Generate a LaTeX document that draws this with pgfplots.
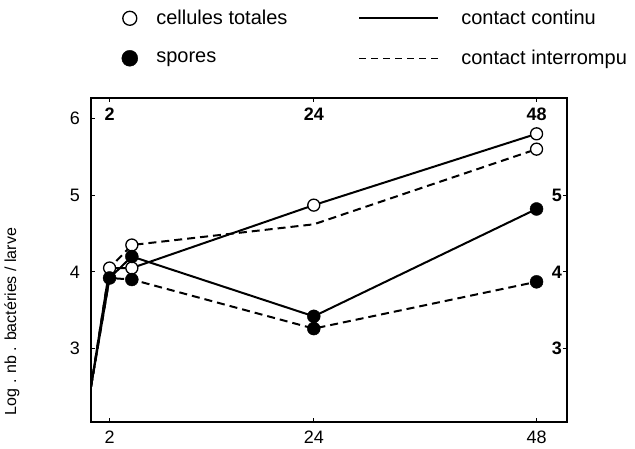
\documentclass[border=0pt]{standalone}
\usepackage{pgfplots}
\pgfplotsset{compat=1.18}
\usepackage{fontspec}
\setmainfont{Liberation Sans}
\begin{document}
\begin{tikzpicture}[x=1pt,y=1pt]
\path[use as bounding box] (-91,-26) rectangle (544,422);
\begin{axis}[
  at={(0,0)}, anchor=south west,
  scale only axis, width=476pt, height=324pt,
  xmin=0, xmax=51.28, ymin=2.042, ymax=6.267,
  axis line style={line width=2pt},
  xtick={2,24,48}, ytick={3,4,5,6},
  xtick pos=left, ytick pos=left,
  tick align=inside, major tick length=4pt,
  tick style={line width=1.2pt, black},
  /pgf/number format/assume math mode=true,
  ticklabel style={font=\fontsize{18}{20}\selectfont, inner sep=0pt},
  xticklabel style={anchor=north, yshift=-9pt},
  yticklabel style={anchor=east, xshift=-11pt},
  ylabel={\fontsize{16}{18}\selectfont Log . nb . bactéries / larve},
  ylabel style={at={(axis description cs:-0.166,0.31)}, anchor=center},
  legend columns=2,
  legend cell align=left,
  legend style={draw=none, fill=none, inner sep=0pt, outer sep=0pt,
    at={(axis description cs:0.0647,1.2707)}, anchor=north west,
    font=\fontsize{20}{22}\selectfont, row sep=24pt,
    nodes={inner sep=0pt},
    /tikz/column 1/.append style={column sep=18.5pt},
    /tikz/column 2/.append style={column sep=70.8pt},
    /tikz/column 3/.append style={column sep=22pt}},
]
% lines
\addplot[forget plot, black, line width=2pt] coordinates {(0,2.5) (2,4.05) (4.4,4.05) (24,4.87) (48,5.8)};
\addplot[forget plot, black, line width=2pt, dash pattern=on 8pt off 5pt] coordinates {(0,2.5) (2,4.05) (4.4,4.35) (24,4.62) (48,5.6)};
\addplot[forget plot, black, line width=2pt] coordinates {(0,2.5) (2,3.92) (4.4,4.2) (24,3.42) (48,4.82)};
\addplot[forget plot, black, line width=2pt, dash pattern=on 8pt off 5pt] coordinates {(0,2.5) (2,3.92) (4.4,3.9) (24,3.26) (48,3.87)};
% markers
\addplot[forget plot, only marks, mark=*, mark size=6pt, mark options={fill=white, draw=black, line width=1.3pt}] coordinates {(2,4.05) (4.4,4.05) (4.4,4.35) (24,4.87) (48,5.8) (48,5.6)};
\addplot[forget plot, only marks, mark=*, mark size=6.5pt, mark options={fill=black, draw=black}] coordinates {(2,3.92) (4.4,4.2) (4.4,3.9) (24,3.42) (24,3.26) (48,4.82) (48,3.87)};
% legend
\addlegendimage{only marks, mark=*, mark size=7pt, mark options={fill=white, draw=black, line width=1.3pt}, legend image code/.code={\draw plot coordinates {(0pt,0pt)};}}
\addlegendentry{cellules totales}
\addlegendimage{black, line width=2pt, legend image code/.code={\draw (0pt,0pt) -- (79pt,0pt);}}
\addlegendentry{contact continu}
\addlegendimage{only marks, mark=*, mark size=8pt, mark options={fill=black, draw=black}, legend image code/.code={\draw plot coordinates {(0pt,0pt)};}}
\addlegendentry{spores}
\addlegendimage{black, line width=1.5pt, dash pattern=on 7pt off 5pt, legend image code/.code={\draw (0pt,0pt) -- (79pt,0pt);}}
\addlegendentry{contact interrompu}
\end{axis}
\begin{axis}[
  at={(0,0)}, anchor=south west,
  scale only axis, width=476pt, height=324pt,
  xmin=0, xmax=51.28, ymin=2.042, ymax=6.267,
  axis line style={line width=2pt},
  xtick={2,24,48}, ytick={3,4,5},
  xtick pos=right, ytick pos=right,
  xticklabel pos=right, yticklabel pos=right,
  tick align=inside, major tick length=4pt,
  tick style={line width=1.2pt, black},
  /pgf/number format/assume math mode=true,
  ticklabel style={font=\bfseries\fontsize{18}{20}\selectfont, inner sep=0pt},
  xticklabel style={anchor=north, yshift=-10pt},
  yticklabel style={anchor=east, xshift=-5pt},
]
\end{axis}
\end{tikzpicture}
\end{document}
